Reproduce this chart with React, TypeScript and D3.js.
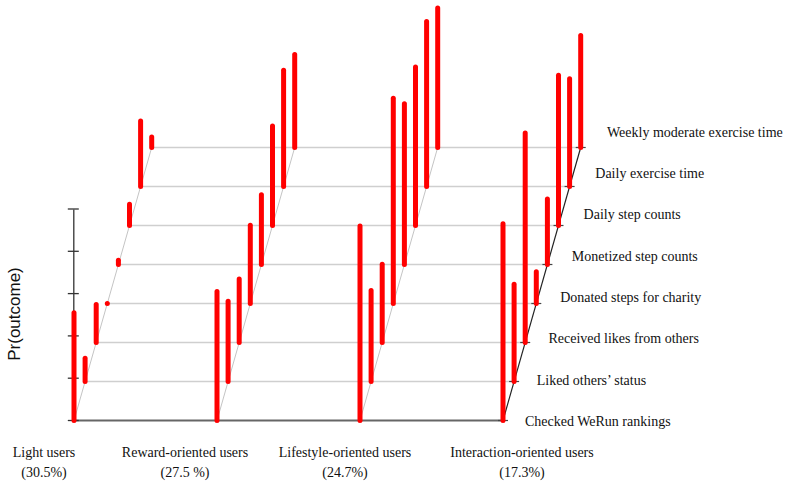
import * as d3 from "d3";
import { useEffect, useRef } from "react";

// user classes (latent classes) and their shares
const groups = [
  "Light users",
  "Reward-oriented users",
  "Lifestyle-oriented users",
  "Interaction-oriented users",
];
const shares = ["(30.5%)", "(27.5 %)", "(24.7%)", "(17.3%)"];

// indicators, bottom (front) to top (back)
const outcomes = [
  "Checked WeRun rankings",
  "Liked others\u2019 status",
  "Received likes from others",
  "Donated steps for charity",
  "Monetized step counts",
  "Daily step counts",
  "Daily exercise time",
  "Weekly moderate exercise time",
];

// Pr(outcome) per class, same order as outcomes
const lightUsers = [0.51, 0.11, 0.18, 0.0, 0.02, 0.1, 0.31, 0.05];
const rewardUsers = [0.61, 0.38, 0.3, 0.37, 0.33, 0.47, 0.55, 0.44];
const lifestyleUsers = [0.92, 0.43, 0.37, 0.97, 0.76, 0.75, 0.78, 0.66];
const interactionUsers = [0.93, 0.46, 0.99, 0.15, 0.31, 0.71, 0.51, 0.53];

const yTicks = [0, 0.2, 0.4, 0.6, 0.8, 1];

function App() {
  const ref = useRef(null);

  useEffect(() => {
    document.body.style.margin = "0";
    drawChart();
  }, []);

  const drawChart = () => {
    const series = [lightUsers, rewardUsers, lifestyleUsers, interactionUsers];
    const svg = d3.select(ref.current);
    svg.selectAll("*").remove();

    // x position of each class' front corner
    const groupX = d3.scaleLinear().domain([0, 3]).range([74, 503]);
    // depth: each indicator shifts up and to the right
    const levelY = d3.scaleLinear().domain([0, 7]).range([420.5, 147.5]);
    const levelDx = d3.scaleLinear().domain([0, 7]).range([0, 77.7]);
    // probability -> bar height
    const pScale = d3.scaleLinear().domain([0, 1]).range([0, 211.5]);

    const levels = d3.range(outcomes.length);
    const last = outcomes.length - 1;

    // horizontal grey lines per indicator
    svg
      .append("g")
      .selectAll("line")
      .data(levels.slice(1))
      .enter()
      .append("line")
      .attr("x1", (k) => groupX(0) + levelDx(k))
      .attr("x2", (k) => groupX(3) + levelDx(k))
      .attr("y1", (k) => levelY(k))
      .attr("y2", (k) => levelY(k))
      .attr("stroke", "#cfcfcf")
      .attr("stroke-width", 1.5);

    // diagonal depth lines for the first three classes
    svg
      .append("g")
      .selectAll("line")
      .data([0, 1, 2])
      .enter()
      .append("line")
      .attr("x1", (g) => groupX(g))
      .attr("y1", levelY(0))
      .attr("x2", (g) => groupX(g) + levelDx(last))
      .attr("y2", levelY(last))
      .attr("stroke", "#c4c4c4")
      .attr("stroke-width", 1);

    // front baseline
    svg
      .append("line")
      .attr("x1", groupX(0))
      .attr("x2", groupX(3))
      .attr("y1", levelY(0))
      .attr("y2", levelY(0))
      .attr("stroke", "#666")
      .attr("stroke-width", 2);

    // y axis on the left
    const axisScale = d3
      .scaleLinear()
      .domain([0, 1])
      .range([levelY(0), levelY(0) - pScale(1)]);
    const axis = svg
      .append("g")
      .attr("transform", `translate(${groupX(0) - 0.7},0)`)
      .call(
        d3
          .axisLeft(axisScale)
          .tickValues(yTicks)
          .tickSize(0)
          .tickFormat(() => "")
      );
    axis.select(".domain").attr("stroke", "#333").attr("stroke-width", 1.3);
    axis
      .selectAll(".tickmark")
      .data(yTicks)
      .enter()
      .append("line")
      .attr("x1", -5.5)
      .attr("x2", 5.5)
      .attr("y1", (d) => axisScale(d))
      .attr("y2", (d) => axisScale(d))
      .attr("stroke", "#333")
      .attr("stroke-width", 1.3);

    // dark diagonal with ticks for the last class
    svg
      .append("line")
      .attr("x1", groupX(3))
      .attr("y1", levelY(0))
      .attr("x2", groupX(3) + levelDx(last))
      .attr("y2", levelY(last))
      .attr("stroke", "#222")
      .attr("stroke-width", 1.2);
    svg
      .append("g")
      .selectAll("line")
      .data(levels)
      .enter()
      .append("line")
      .attr("x1", (k) => groupX(3) + levelDx(k) - 5)
      .attr("x2", (k) => groupX(3) + levelDx(k) + 5)
      .attr("y1", (k) => levelY(k))
      .attr("y2", (k) => levelY(k))
      .attr("stroke", "#444")
      .attr("stroke-width", 1.2);

    // red bars
    series.forEach((values, g) => {
      svg
        .append("g")
        .selectAll("line")
        .data(values)
        .enter()
        .append("line")
        .attr("x1", (d, k) => groupX(g) + levelDx(k))
        .attr("x2", (d, k) => groupX(g) + levelDx(k))
        .attr("y1", (d, k) => levelY(k))
        .attr("y2", (d, k) => levelY(k) - pScale(d))
        .attr("stroke", "#ff0000")
        .attr("stroke-width", 5)
        .attr("stroke-linecap", "round");
    });

    // indicator labels
    const labelX = d3.scaleLinear().domain([0, 7]).range([525, 607]);
    const labelY = d3.scaleLinear().domain([0, 7]).range([421, 132]);
    svg
      .append("g")
      .selectAll("text")
      .data(outcomes)
      .enter()
      .append("text")
      .attr("x", (d, k) => labelX(k))
      .attr("y", (d, k) => labelY(k))
      .attr("dy", "0.35em")
      .attr("font-family", "'Liberation Serif', 'Times New Roman', serif")
      .attr("font-size", 14)
      .attr("fill", "#111")
      .text((d) => d);

    // class labels below
    const labelShift = [-30, -32, -15, 19];
    const classLabels = svg
      .append("g")
      .attr("font-family", "'Liberation Serif', 'Times New Roman', serif")
      .attr("font-size", 14)
      .attr("fill", "#111")
      .attr("text-anchor", "middle");
    classLabels
      .selectAll(".name")
      .data(groups)
      .enter()
      .append("text")
      .attr("x", (d, g) => groupX(g) + labelShift[g])
      .attr("y", 457)
      .text((d) => d);
    classLabels
      .selectAll(".share")
      .data(shares)
      .enter()
      .append("text")
      .attr("x", (d, g) => groupX(g) + labelShift[g])
      .attr("y", 477)
      .text((d) => d);

    // y title
    svg
      .append("text")
      .attr("transform", `translate(20,314) rotate(-90)`)
      .attr("text-anchor", "middle")
      .attr("font-family", "'Liberation Sans', Arial, sans-serif")
      .attr("font-size", 17)
      .attr("fill", "#111")
      .text("Pr(outcome)");
  };

  return (
    <div>
      <svg ref={ref} width={785} height={484} style={{ display: "block" }} />
    </div>
  );
}

export default App;
